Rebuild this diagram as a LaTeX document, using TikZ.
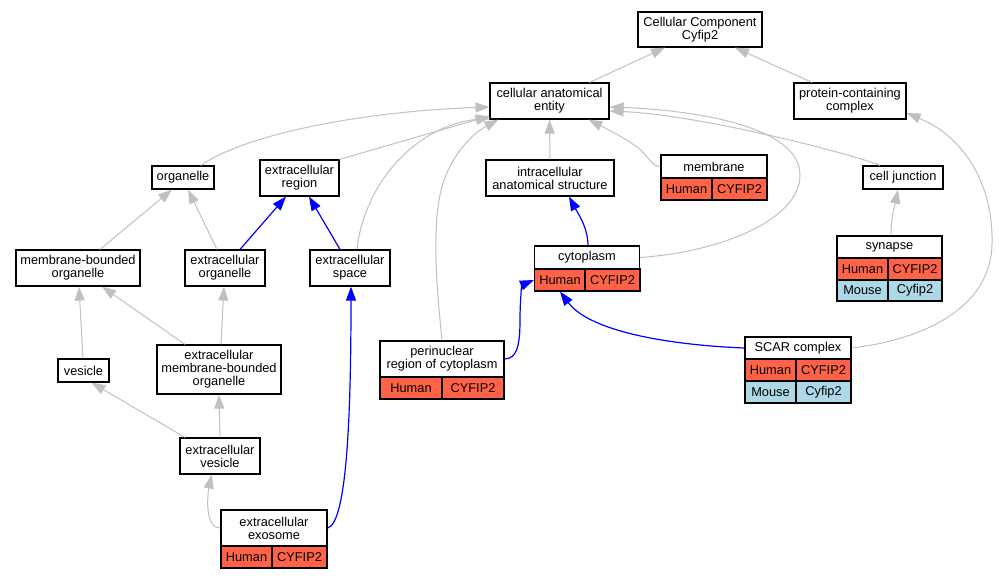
\documentclass[tikz,border=0pt]{standalone}
\usepackage{fontspec}
\setmainfont{Liberation Sans}
\usetikzlibrary{arrows.meta,calc}
\definecolor{edgegray}{HTML}{C0C0C0}
\definecolor{tomatored}{HTML}{FF6347}
\definecolor{lblue}{HTML}{ADD8E6}
\begin{document}
\begin{tikzpicture}[x=1pt,y=-1pt,
  box/.style={draw=black, line width=1.2pt, fill=white, inner sep=0pt, align=center,
    font=\fontsize{12.8}{13}\selectfont},
  hcell/.style={box, fill=tomatored},
  mcell/.style={box, fill=lblue},
  gedge/.style={draw=edgegray, line width=1pt, -{Triangle[length=14pt,width=10pt]}},
  bedge/.style={draw=blue, line width=1.2pt, -{Triangle[length=14pt,width=10pt]}},
]
\useasboundingbox (0,0) rectangle (999,579);
% nodes
\node[box, minimum width=124pt, minimum height=35pt] (cc) at (700,29.5) {Cellular Component\\Cyfip2};
\node[box, minimum width=119pt, minimum height=36pt] (cae) at (549.5,101) {cellular anatomical\\entity};
\node[box, minimum width=112pt, minimum height=36pt] (pcc) at (850,101) {protein-containing\\complex};
\node[box, minimum width=62pt, minimum height=23pt] (org) at (183,177.5) {organelle};
\node[box, minimum width=79pt, minimum height=36pt] (exr) at (299.5,178) {extracellular\\region};
\node[box, minimum width=128pt, minimum height=36pt] (ias) at (550,178) {intracellular\\anatomical structure};
\node[box, minimum width=106pt, minimum height=23pt] (mem) at (714,166.5) {membrane};
\node[hcell, minimum width=51pt, minimum height=22pt] (memH) at (686.5,189) {Human};
\node[hcell, minimum width=55pt, minimum height=22pt] (memG) at (739.5,189) {CYFIP2};
\node[box, minimum width=80pt, minimum height=23pt] (cj) at (903,177.5) {cell junction};
\node[box, minimum width=124pt, minimum height=36pt] (mbo) at (78,268) {membrane-bounded\\organelle};
\node[box, minimum width=80pt, minimum height=36pt] (exo) at (225,268) {extracellular\\organelle};
\node[box, minimum width=80pt, minimum height=36pt] (exs) at (350,268) {extracellular\\space};
\node[box, minimum width=105pt, minimum height=23pt] (cyto) at (587,257.5) {cytoplasm};
\node[hcell, minimum width=51pt, minimum height=22pt] (cytoH) at (560,280) {Human};
\node[hcell, minimum width=55pt, minimum height=22pt] (cytoG) at (612.5,280) {CYFIP2};
\node[box, minimum width=105pt, minimum height=22pt] (syn) at (889.5,247) {synapse};
\node[hcell, minimum width=51pt, minimum height=22pt] (synH) at (862.5,269) {Human};
\node[hcell, minimum width=54pt, minimum height=22pt] (synG) at (915,269) {CYFIP2};
\node[mcell, minimum width=51pt, minimum height=21pt] (synM) at (862.5,290.5) {Mouse};
\node[mcell, minimum width=54pt, minimum height=21pt] (synC) at (915,290.5) {Cyfip2};
\node[box, minimum width=51pt, minimum height=23pt] (ves) at (83.5,370.5) {vesicle};
\node[box, minimum width=124pt, minimum height=49pt] (embo) at (219,369.5) {extracellular\\membrane-bounded\\organelle};
\node[box, minimum width=124pt, minimum height=36pt] (peri) at (442,359) {perinuclear\\region of cytoplasm};
\node[hcell, minimum width=62pt, minimum height=22pt] (periH) at (411,388) {Human};
\node[hcell, minimum width=62pt, minimum height=22pt] (periG) at (473,388) {CYFIP2};
\node[box, minimum width=106pt, minimum height=22pt] (scar) at (798,348) {SCAR complex};
\node[hcell, minimum width=51pt, minimum height=22pt] (scarH) at (770.5,370) {Human};
\node[hcell, minimum width=55pt, minimum height=22pt] (scarG) at (823.5,370) {CYFIP2};
\node[mcell, minimum width=51pt, minimum height=22pt] (scarM) at (770.5,392) {Mouse};
\node[mcell, minimum width=55pt, minimum height=22pt] (scarC) at (823.5,392) {Cyfip2};
\node[box, minimum width=80pt, minimum height=36pt] (exv) at (220,456) {extracellular\\vesicle};
\node[box, minimum width=106pt, minimum height=36pt] (exos) at (274,528) {extracellular\\exosome};
\node[hcell, minimum width=51pt, minimum height=22pt] (exosH) at (246.5,557) {Human};
\node[hcell, minimum width=55pt, minimum height=22pt] (exosG) at (299.5,557) {CYFIP2};
% gray edges
\draw[gedge] ($(cae.north)+(40,0)$) -- ($(cc.south)+(-35,0)$);
\draw[gedge] ($(pcc.north)+(-38,0)$) -- ($(cc.south)+(35,0)$);
\draw[gedge] ($(org.north)+(18,0)$) .. controls +(39,-28) and +(-140,5) .. ($(cae.west)+(0,6)$);
\draw[gedge] ($(exr.north)+(40,0)$) -- ($(cae.west)+(0,15)$);
\draw[gedge] ($(exs.north)+(7,0)$) .. controls +(8,-70) and +(-71,7) .. ($(cae.west)+(1,17)$);
\draw[gedge] (peri.north) .. controls (437,290) and (432,235) .. (440,195)
  .. controls (447,160) and (470,135) .. ($(cae.south west)+(9,0)$);
\draw[gedge] (ias.north) -- (cae.south);
\draw[gedge] (mem.west) .. controls (651,166.5) and (648,155) .. (637,147)
  .. controls (625,138) and (605,128) .. ($(cae.south)+(39,0)$);
\draw[gedge] ($(cj.north)+(-23,0)$) .. controls +(-30,-12) and +(91,4) .. ($(cae.east)+(0,10)$);
\draw[gedge] (cyto.east) .. controls (720,252) and (800,220) .. (800,175)
  .. controls (800,125) and (690,110) .. ($(cae.east)+(0,6)$);
\draw[gedge] ($(syn.north)+(1.5,0)$) .. controls +(0,-20) and +(-3,15) .. ($(cj.south)+(-5,0)$);
\draw[gedge] (scar.east) .. controls (920,340) and (990,310) .. (992,245)
  .. controls (994,180) and (960,135) .. ($(pcc.east)+(0,12)$);
\draw[gedge] ($(mbo.north)+(22,0)$) -- ($(org.south)+(-11,0)$);
\draw[gedge] ($(exo.north)+(-8,0)$) -- ($(org.south)+(5,0)$);
\draw[gedge] ($(ves.north)+(-0.5,0)$) -- ($(mbo.south)+(1,0)$);
\draw[gedge] ($(embo.north)+(-34,0)$) -- ($(mbo.south)+(24,0)$);
\draw[gedge] ($(embo.north)+(2,0)$) -- ($(exo.south)+(-1,0)$);
\draw[gedge] ($(exv.north)+(-35,0)$) -- ($(ves.south)+(8,0)$);
\draw[gedge] (exv.north) -- (embo.south);
\draw[gedge] (exos.west) .. controls +(-16,0) and +(-4,20) .. ($(exv.south)+(-8.5,0)$);
% blue edges
\draw[bedge] ($(exo.north)+(15,0)$) -- ($(exr.south)+(-13.5,0)$);
\draw[bedge] ($(exs.north)+(-10,0)$) -- ($(exr.south)+(9.5,0)$);
\draw[bedge] (exos.east) .. controls +(20,-5) and +(0,120) .. ($(exs.south)+(1,0)$);
\draw[bedge] ($(cyto.north)+(1,0)$) .. controls +(0,-18) and +(8,15) .. ($(ias.south)+(19,0)$);
\draw[bedge] (peri.east) .. controls (517,359) and (520,345) .. (520,320)
  .. controls (520,300) and (522,285) .. (cytoH.west);
\draw[bedge] (scar.west) .. controls +(-75,-3) and +(30,40) .. (cytoH.south);
\end{tikzpicture}
\end{document}
